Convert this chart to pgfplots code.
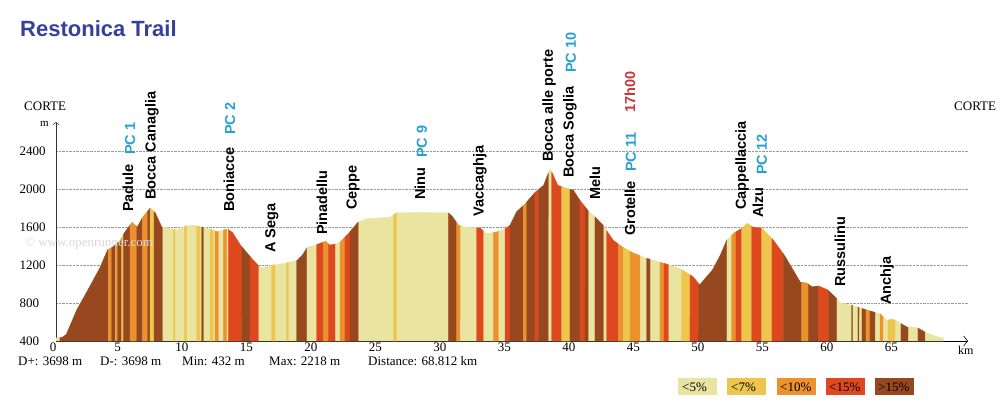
\documentclass[border=0pt]{standalone}
\usepackage{pgfplots}
\pgfplotsset{compat=1.18}
\usepgfplotslibrary{fillbetween}
\usetikzlibrary{arrows.meta}
\usepackage{pgfplotstable}
\usepackage{fontspec}
\setmainfont{Liberation Serif}
\newfontfamily\arial{Liberation Sans}

\definecolor{g5}{RGB}{233,228,160}
\definecolor{g7}{RGB}{238,198,78}
\definecolor{g10}{RGB}{235,145,45}
\definecolor{g15}{RGB}{222,72,30}
\definecolor{g20}{RGB}{152,72,30}
\definecolor{pcblue}{RGB}{40,160,210}
\definecolor{titleblue}{RGB}{52,64,156}
\definecolor{hred}{RGB}{200,55,55}

% elevation profile (km, m)
\pgfplotstableread{
km elev
0 432
0.5 440
0.8 470
1.6 725
2.6 970
3.4 1170
4.0 1360
4.4 1390
5.0 1460
5.3 1540
5.9 1650
6.3 1600
6.7 1700
7.3 1800
7.7 1750
8.2 1600
8.8 1590
9.4 1570
10.0 1610
10.6 1620
11.7 1590
12.5 1550
13.3 1580
13.7 1540
14.3 1410
14.8 1330
15.3 1250
15.8 1180
16.0 1170
16.8 1200
17.8 1220
18.7 1250
19.1 1305
19.5 1390
20.1 1410
20.5 1430
20.9 1450
21.2 1410
21.6 1420
22.0 1440
22.6 1520
23.4 1650
24.0 1685
24.9 1695
25.9 1705
26.4 1750
28.2 1755
30.4 1750
30.7 1715
31.2 1620
31.7 1600
32.9 1590
33.3 1535
33.6 1535
34.2 1550
34.8 1580
35.2 1620
35.7 1760
36.4 1850
37.1 1960
37.8 2040
38.3 2218
38.5 2160
38.9 2040
39.5 2010
40.1 1990
40.6 1885
41.2 1780
41.8 1705
42.4 1620
43.2 1460
43.9 1390
44.7 1330
45.7 1275
46.8 1230
47.6 1200
48.4 1160
49.4 1075
49.9 990
50.2 1040
50.9 1150
51.5 1305
52.0 1465
52.6 1540
53.2 1590
53.6 1640
54.0 1600
54.7 1590
55.6 1465
56.5 1295
57.7 1020
58.2 1010
58.6 970
59.1 980
59.8 940
60.4 865
60.8 800
61.6 780
62.9 725
63.9 685
64.4 620
64.9 630
66.0 545
66.7 545
67.5 485
68.1 455
68.5 440
68.8 432
}\profile

% one coloured slope band between km #1 and #2
\newcommand\stripe[3]{\addplot[fill=#3, draw=#3, line width=0.25pt] fill between[of=prof and base, soft clip={(#1,0) rectangle (#2,5000)}];}
% rotated place label
\newcommand\lab[4]{\node[rotate=90, anchor=west, inner sep=0pt, text=#4, font=\arial\bfseries\fontsize{14.5}{15}\selectfont] at (axis cs:#1,#2) {#3};}

\begin{document}
\begin{tikzpicture}[x=1pt,y=1pt]
\path (0,0) rectangle (1003,407);

\node[anchor=base west, inner sep=0pt, text=black!15, font=\fontsize{13}{13}\selectfont] at (25,160) {© www.openrunner.com};

\begin{axis}[
  scale only axis, width=912pt, height=219pt,
  at={(56pt,66pt)}, anchor=south west,
  xmin=0, xmax=70.7, ymin=400, ymax=2706,
  axis lines=left,
  x axis line style={black, line width=0.9pt, -{Straight Barb[length=4pt, width=10pt, line width=0.6pt]}},
  y axis line style={black!80, line width=0.5pt, -{Straight Barb[length=2.5pt, width=6pt]}},
  xtick={0,5,...,65}, ytick={400,800,...,2400},
  major tick length=0pt,
  ymajorgrids, grid style={densely dotted, black!40, line width=0.6pt},
  tick label style={font=\fontsize{13}{13}\selectfont},
  /pgf/number format/assume math mode=true,
  /pgf/number format/1000 sep={},
  xticklabel style={xshift=-3pt, yshift=-1.5pt, inner sep=0pt, anchor=north},
  yticklabel style={anchor=west, xshift=-40pt},
  clip mode=individual,
]
\addplot[draw=none, name path=prof] table {\profile};
\addplot[draw=none, name path=base] coordinates {(0,400) (68.8,400)};
\addplot[fill=g5, draw=g5, line width=0.25pt] fill between[of=prof and base];

\stripe{0.31}{4.05}{g20}
\stripe{4.05}{4.32}{g10}
\stripe{4.32}{4.57}{g20}
\stripe{4.63}{4.78}{g10}
\stripe{4.78}{5.09}{g20}
\stripe{5.09}{5.22}{g7}
\stripe{5.22}{5.74}{g20}
\stripe{5.74}{6.26}{g10}
\stripe{6.26}{6.69}{g20}
\stripe{6.69}{7.11}{g10}
\stripe{7.11}{7.29}{g20}
\stripe{7.29}{7.60}{g7}
\stripe{7.60}{8.24}{g20}
\stripe{9.09}{9.22}{g7}
\stripe{9.95}{10.13}{g7}
\stripe{10.91}{11.16}{g7}
\stripe{11.29}{11.42}{g20}
\stripe{11.94}{12.19}{g7}
\stripe{12.33}{12.58}{g10}
\stripe{12.97}{13.23}{g10}
\stripe{13.36}{14.40}{g15}
\stripe{14.40}{15.04}{g20}
\stripe{15.04}{15.68}{g15}
\stripe{16.72}{16.98}{g7}
\stripe{17.88}{18.01}{g7}
\stripe{18.66}{19.43}{g20}
\stripe{20.21}{20.72}{g15}
\stripe{20.72}{21.11}{g10}
\stripe{21.11}{21.63}{g15}
\stripe{22.02}{22.40}{g10}
\stripe{22.40}{22.79}{g15}
\stripe{22.79}{23.43}{g20}
\stripe{26.15}{26.41}{g7}
\stripe{30.41}{31.06}{g20}
\stripe{31.06}{31.32}{g10}
\stripe{32.61}{33.12}{g15}
\stripe{33.90}{34.29}{g10}
\stripe{34.81}{35.19}{g15}
\stripe{35.19}{36.22}{g20}
\stripe{36.22}{36.49}{g10}
\stripe{36.49}{37.13}{g20}
\stripe{37.13}{37.39}{g15}
\stripe{37.39}{38.16}{g20}
\stripe{38.43}{39.20}{g15}
\stripe{39.20}{39.84}{g7}
\stripe{39.84}{40.62}{g20}
\stripe{40.62}{41.01}{g15}
\stripe{41.01}{41.26}{g20}
\stripe{41.78}{42.43}{g20}
\stripe{42.69}{43.59}{g15}
\stripe{43.59}{43.98}{g10}
\stripe{43.98}{44.50}{g7}
\stripe{44.50}{45.27}{g10}
\stripe{45.79}{46.05}{g20}
\stripe{46.82}{47.13}{g10}
\stripe{47.13}{47.47}{g15}
\stripe{48.50}{49.15}{g7}
\stripe{49.15}{49.79}{g15}
\stripe{49.79}{51.99}{g20}
\stripe{52.38}{52.71}{g10}
\stripe{52.71}{53.15}{g15}
\stripe{53.15}{53.93}{g7}
\stripe{53.93}{54.70}{g15}
\stripe{54.70}{55.50}{g7}
\stripe{55.50}{56.38}{g15}
\stripe{56.38}{57.81}{g20}
\stripe{57.81}{58.32}{g10}
\stripe{58.32}{59.09}{g20}
\stripe{59.09}{59.87}{g15}
\stripe{59.87}{60.52}{g20}
\stripe{61.68}{61.76}{g20}
\stripe{62.17}{62.25}{g20}
\stripe{62.48}{62.79}{g20}
\stripe{62.79}{63.10}{g10}
\stripe{63.10}{63.49}{g20}
\stripe{63.88}{64.11}{g10}
\stripe{64.50}{65.04}{g7}
\stripe{65.50}{66.05}{g20}
\stripe{66.82}{67.36}{g20}

\lab{5.58}{1758}{Padule}{black}
\lab{5.74}{2359}{PC 1}{pcblue}
\lab{7.44}{1885}{Bocca Canaglia}{black}
\lab{13.41}{1758}{Boniacce}{black}
\lab{13.49}{2569}{PC 2}{pcblue}
\lab{16.74}{1327}{A Sega}{black}
\lab{20.62}{1516}{Pinadellu}{black}
\lab{23.02}{1779}{Ceppe}{black}
\lab{28.22}{1885}{Ninu}{black}
\lab{28.37}{2327}{PC 9}{pcblue}
\lab{32.87}{1706}{Vaccaghja}{black}
\lab{38.22}{2285}{Bocca alle porte}{black}
\lab{39.84}{2116}{Bocca Soglia}{black}
\lab{39.92}{3222}{PC 10}{pcblue}
\lab{41.78}{1885}{Melu}{black}
\lab{44.50}{1506}{Grotelle}{black}
\lab{44.57}{2180}{PC 11}{pcblue}
\lab{44.50}{2801}{17h00}{hred}
\lab{53.18}{1779}{Cappellaccia}{black}
\lab{54.42}{1695}{Alzu}{black}
\lab{54.73}{2148}{PC 12}{pcblue}
\lab{60.78}{969}{Russulinu}{black}
\lab{64.42}{779}{Anchja}{black}
\end{axis}

\node[anchor=base west, inner sep=0pt, text=titleblue, font=\arial\bfseries\fontsize{22}{22}\selectfont] at (20,370) {Restonica Trail};
\node[anchor=base west, inner sep=0pt, font=\fontsize{13}{13}\selectfont] at (24,296) {CORTE};
\node[anchor=base west, inner sep=0pt, font=\fontsize{13}{13}\selectfont] at (954,296) {CORTE};
\node[anchor=base west, inner sep=0pt, font=\fontsize{11}{11}\selectfont] at (40,280) {m};
\node[anchor=base west, inner sep=0pt, font=\fontsize{12}{12}\selectfont] at (958,53) {km};

\begin{scope}[every node/.style={anchor=base west, inner sep=0pt, font=\fontsize{13}{13}\selectfont}]
\node at (18,42) {D+: 3698 m};
\node at (100,42) {D-: 3698 m};
\node at (182,42) {Min: 432 m};
\node at (269,42) {Max: 2218 m};
\node at (368,42) {Distance: 68.812 km};
\end{scope}

\begin{scope}[every node/.style={inner sep=0pt}]
\node[fill=g5, minimum width=39pt, minimum height=17pt, anchor=south west] at (678,12) {};
\node[fill=g7, minimum width=39pt, minimum height=17pt, anchor=south west] at (727,12) {};
\node[fill=g10, minimum width=39pt, minimum height=17pt, anchor=south west] at (777,12) {};
\node[fill=g15, minimum width=39pt, minimum height=17pt, anchor=south west] at (826,12) {};
\node[fill=g20, minimum width=39pt, minimum height=17pt, anchor=south west] at (875,12) {};
\node[anchor=base west, font=\fontsize{13}{13}\selectfont] at (682,16) {<5\%};
\node[anchor=base west, font=\fontsize{13}{13}\selectfont] at (731,16) {<7\%};
\node[anchor=base west, font=\fontsize{13}{13}\selectfont] at (780,16) {<10\%};
\node[anchor=base west, font=\fontsize{13}{13}\selectfont] at (829,16) {<15\%};
\node[anchor=base west, font=\fontsize{13}{13}\selectfont] at (878,16) {>15\%};
\end{scope}
\end{tikzpicture}
\end{document}
